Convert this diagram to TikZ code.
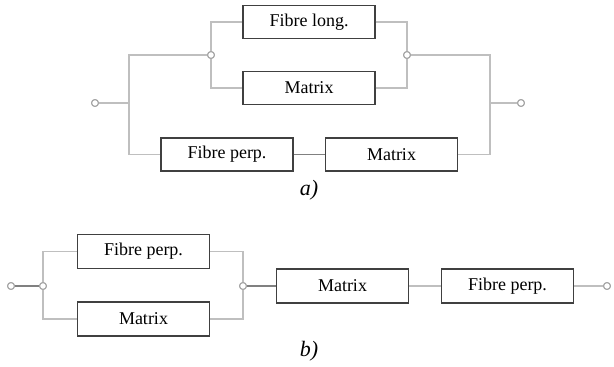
\documentclass[tikz,border=0pt]{standalone}
\usepackage{fontspec}
\setmainfont{Liberation Serif}
\begin{document}
\begin{tikzpicture}[x=1pt,y=-1pt,
  blk/.style={draw=black!75,line width=1.4pt,fill=white,minimum width=132pt,minimum height=33pt,inner sep=0pt,font=\fontsize{18}{20}\selectfont},
  jn/.style={circle,draw=black!35,line width=0.9pt,fill=white,minimum size=7pt,inner sep=0pt},
  wire/.style={draw=black!25,line width=1.1pt},
  dwire/.style={draw=black!50,line width=1.1pt},
  lab/.style={font=\fontsize{22}{24}\selectfont\itshape}]
\useasboundingbox (0,0) rectangle (614,367);
% ---- a)
\node[blk] (fl) at (309,22) {Fibre long.};
\node[blk] (ma1) at (309,88) {Matrix};
\node[blk] (fp1) at (227,154.5) {Fibre perp.};
\node[blk] (ma2) at (391.5,154.5) {Matrix};
\node[jn] (ia) at (95,103) {};
\node[jn] (ja1) at (211,55) {};
\node[jn] (ja2) at (407,55) {};
\node[jn] (oa) at (521,103) {};
\coordinate (la) at (129,103);
\coordinate (lat) at (129,55);
\coordinate (lab) at (129,154.5);
\coordinate (ra) at (490,103);
\coordinate (rat) at (490,55);
\coordinate (rab) at (490,154.5);
\draw[wire] (ia) -- (la);
\draw[wire] (ja1) -- (lat) -- (lab) -- (fp1.west);
\draw[wire] (ja1) |- (fl.west);
\draw[wire] (ja1) |- (ma1.west);
\draw[wire] (fl.east) -| (ja2);
\draw[wire] (ma1.east) -| (ja2);
\draw[dwire] (fp1.east) -- (ma2.west);
\draw[wire] (ja2) -- (rat) -- (rab) -- (ma2.east);
\draw[wire] (ra) -- (oa);
\node[lab] (ta) at (309,190) {a)};
% ---- b)
\node[blk,minimum height=34pt] (fp2) at (143.5,251.5) {Fibre perp.};
\node[blk,minimum height=34pt] (ma3) at (143.5,319) {Matrix};
\node[blk,minimum height=34pt] (ma4) at (342.5,286) {Matrix};
\node[blk,minimum height=34pt] (fp3) at (507.5,286) {Fibre perp.};
\node[jn] (ib) at (11,286) {};
\node[jn] (jb1) at (43,286) {};
\node[jn] (jb2) at (243,286) {};
\node[jn] (ob) at (607,286) {};
\draw[dwire] (ib) -- (jb1);
\draw[wire] (jb1) |- (fp2.west);
\draw[wire] (jb1) |- (ma3.west);
\draw[wire] (fp2.east) -| (jb2);
\draw[wire] (ma3.east) -| (jb2);
\draw[dwire] (jb2) -- (ma4.west);
\draw[wire] (ma4.east) -- (fp3.west);
\draw[wire] (fp3.east) -- (ob);
\node[lab] (tb) at (309,351) {b)};
% redraw junctions on top
\foreach \n in {ia,ja1,ja2,oa,ib,jb1,jb2,ob} {\draw[black!35,line width=0.9pt] (\n) circle (3.5pt);}
\end{tikzpicture}
\end{document}
